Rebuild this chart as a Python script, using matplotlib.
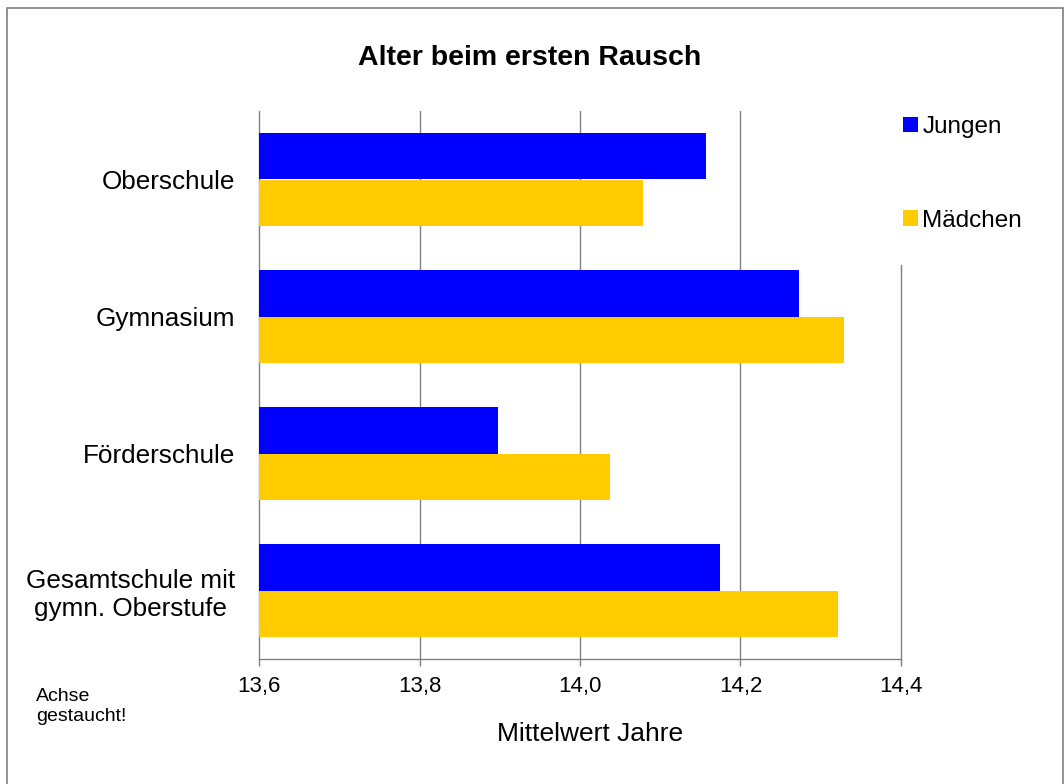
import matplotlib as mpl
mpl.use('Agg')

import numpy as np
import matplotlib.pyplot as plt
from matplotlib.patches import Rectangle

plt.rcParams['font.family'] = ['Liberation Sans', 'DejaVu Sans']

# Daten (Mittelwert Alter beim ersten Rausch)
schulen = ["Oberschule", "Gymnasium", "Förderschule",
           "Gesamtschule mit\ngymn. Oberstufe"]
jungen = [14.157, 14.273, 13.898, 14.175]
maedchen = [14.078, 14.329, 14.037, 14.321]
xticks = [13.6, 13.8, 14.0, 14.2, 14.4]
xticklabels = ["13,6", "13,8", "14,0", "14,2", "14,4"]

blau = "#0000FF"
gelb = "#FFCC00"
grau = "#808080"

fig = plt.figure(figsize=(10.64, 7.84), dpi=100)
ax = fig.add_axes([259/1064, 125/784, 642/1064, 548/784])

y = np.arange(len(schulen))
h = 0.336
x0 = xticks[0]
ax.barh(y - h/2, np.array(jungen) - x0, height=h, left=x0, color=blau,
        label="Jungen", zorder=3)
ax.barh(y + h/2, np.array(maedchen) - x0, height=h, left=x0, color=gelb,
        label="Mädchen", zorder=3)

ax.set_xlim(xticks[0], xticks[-1])
ax.set_ylim(len(schulen) - 0.5, -0.5)
ax.set_xticks(xticks)
ax.set_xticklabels(xticklabels, fontsize=16)
ax.set_yticks(y)
ax.set_yticklabels(schulen, fontsize=18.8, multialignment='center')

ax.tick_params(axis='y', length=0, pad=17)
ax.tick_params(axis='x', length=5, width=1, color=grau, pad=7)

for s in ['top', 'right']:
    ax.spines[s].set_visible(False)
for s in ['left', 'bottom']:
    ax.spines[s].set_color(grau)
    ax.spines[s].set_linewidth(1)

for xv in xticks[1:-1]:
    ax.axvline(xv, color=grau, lw=1, zorder=1)
ax.axvline(xticks[-1], ymin=0, ymax=(659 - 265) / 548, color=grau, lw=1,
           zorder=1, clip_on=False)

fig.text(530/1064, 1 - 65/784, "Alter beim ersten Rausch", fontsize=20.5,
         fontweight='bold', ha='center', va='baseline')
fig.text(590/1064, 1 - 741/784, "Mittelwert Jahre", fontsize=19,
         ha='center', va='baseline')
fig.text(36/1064, 1 - 721/784, "Achse\ngestaucht!", fontsize=14,
         ha='left', va='baseline', linespacing=1.22)

fig.legend(loc='upper left', bbox_to_anchor=(903/1064, 1 - 116/784),
           frameon=False, fontsize=17.5, borderpad=0, borderaxespad=0,
           handlelength=0.6, handleheight=0.6, handletextpad=0.2,
           labelspacing=2.95)

fig.patches.append(Rectangle((7/1064, -0.01), 1056/1064, 1.01 - 8/784,
                             transform=fig.transFigure, fill=False,
                             edgecolor=grau, lw=1.2))

fig.savefig("out.png", dpi=100)
